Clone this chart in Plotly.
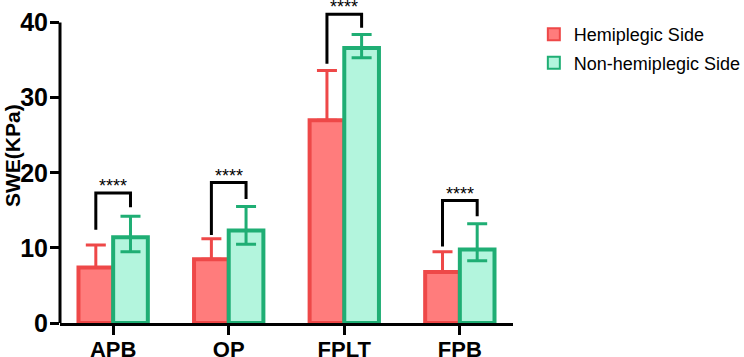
import plotly.graph_objects as go

categories = ["APB", "OP", "FPLT", "FPB"]
hemi_mean = [7.4, 8.5, 27.0, 6.8]
hemi_err_up = [3.0, 2.7, 6.6, 2.7]
non_mean = [11.4, 12.3, 36.6, 9.8]
non_err_up = [2.8, 3.2, 1.8, 3.4]
non_err_down = [1.9, 1.8, 1.3, 1.5]
bracket_top = [17.3, 18.7, 41.1, 16.3]
bracket_left_end = [12.4, 11.7, 34.5, 10.2]
bracket_right_end = [15.4, 16.5, 39.3, 14.2]
sig_labels = ["****", "****", "****", "****"]
y_ticks = [0, 10, 20, 30, 40]
y_title = "SWE(KPa)"

RED_LINE = "#EE4848"
RED_FILL = "#FF7C7C"
GREEN_LINE = "#1FAE74"
GREEN_FILL = "#B3F5DD"
FONT = "Liberation Sans, Arial, sans-serif"

xs = list(range(len(categories)))

fig = go.Figure()
fig.add_trace(go.Bar(
    x=xs, y=hemi_mean, name="Hemiplegic Side", legendgroup="a",
    marker=dict(color=RED_FILL, line=dict(color=RED_LINE, width=4)),
    error_y=dict(type="data", symmetric=False, array=hemi_err_up,
                 arrayminus=[0] * len(hemi_mean),
                 color=RED_LINE, thickness=3, width=10),
))
fig.add_trace(go.Bar(
    x=xs, y=non_mean, name="Non-hemiplegic Side", legendgroup="b",
    marker=dict(color=GREEN_FILL, line=dict(color=GREEN_LINE, width=4)),
    error_y=dict(type="data", symmetric=False, array=non_err_up,
                 arrayminus=non_err_down,
                 color=GREEN_LINE, thickness=3, width=10),
))

half = 0.15
for i in xs:
    path = (f"M {i - half},{bracket_left_end[i]} L {i - half},{bracket_top[i]} "
            f"L {i + half},{bracket_top[i]} L {i + half},{bracket_right_end[i]}")
    fig.add_shape(type="path", path=path, xref="x", yref="y",
                  line=dict(color="black", width=3), layer="above")
    fig.add_annotation(x=i, y=bracket_top[i], xref="x", yref="y",
                       text=sig_labels[i], showarrow=False,
                       yanchor="bottom", yshift=-5,
                       font=dict(family=FONT, size=18, color="black"))

# y axis line only up to 40
fig.add_shape(type="line", xref="paper", yref="y", x0=0, x1=0,
              y0=0, y1=y_ticks[-1], line=dict(color="black", width=3),
              layer="above")

# y axis title
fig.add_annotation(x=0, xref="paper", xanchor="center", xshift=-48,
                   y=0.517, yref="paper", yanchor="middle",
                   text=f"<b>{y_title}</b>", textangle=-90, showarrow=False,
                   font=dict(family=FONT, size=21, color="black"))

fig.update_layout(
    width=744, height=357,
    margin=dict(l=60, r=231, t=0, b=34, autoexpand=False),
    plot_bgcolor="white", paper_bgcolor="white",
    barmode="group", bargap=0.4, bargroupgap=0,
    font=dict(family=FONT, color="black"),
    showlegend=True,
    legend=dict(x=1.046, y=0.95, xanchor="left", yanchor="top",
                font=dict(family=FONT, size=18, color="black"),
                itemsizing="constant", tracegroupgap=2),
    xaxis=dict(range=[-0.46, 3.46], tickmode="array", tickvals=xs,
               ticktext=[f"<b>{c}</b>" for c in categories],
               showline=True, linecolor="black", linewidth=3,
               ticks="outside", ticklen=9, tickwidth=3, tickcolor="black",
               showgrid=False, zeroline=False, ticklabelstandoff=-4,
               automargin=False,
               tickfont=dict(family=FONT, size=22, color="black")),
    yaxis=dict(range=[0, 43], tickmode="array", tickvals=y_ticks,
               ticktext=[f"<b>{t}</b>" for t in y_ticks],
               showline=False, ticks="outside", ticklen=9, tickwidth=3,
               tickcolor="black", showgrid=False, zeroline=False,
               automargin=False, ticklabelstandoff=-3,
               tickfont=dict(family=FONT, size=25, color="black")),
)

fig.write_html("out.html",
               config={"displayModeBar": False},
               post_script="document.body.style.margin='0';"
                           "document.body.style.overflow='hidden';")
